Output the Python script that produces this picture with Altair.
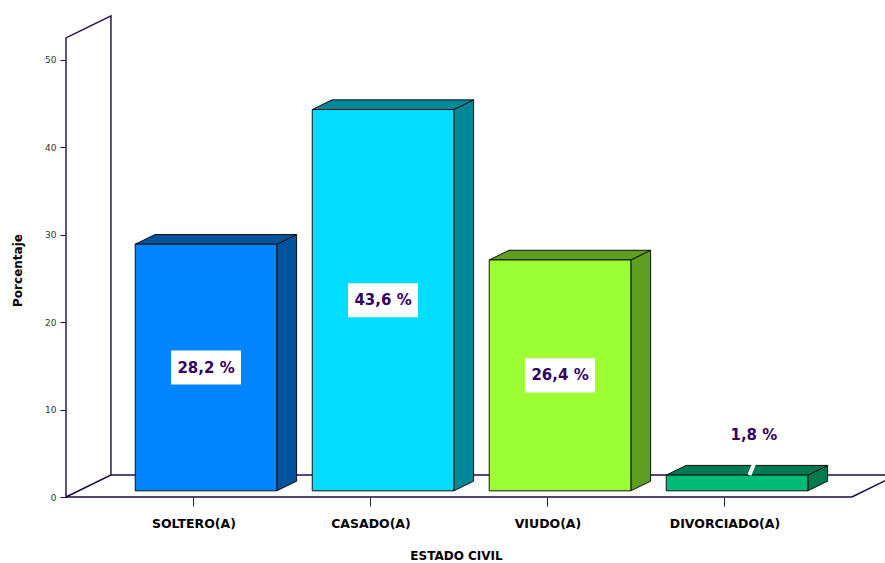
import json
import altair as alt
import pandas as pd

# ---------------- data ----------------
categories = ["SOLTERO(A)", "CASADO(A)", "VIUDO(A)", "DIVORCIADO(A)"]
values = [28.2, 43.6, 26.4, 1.8]
front_colors = ["#0084FF", "#00DDFF", "#9CFF33", "#00BB78"]
side_colors = ["#00529C", "#00889A", "#5E9E20", "#007850"]
y_ticks = [0, 10, 20, 30, 40, 50]

# ---------------- geometry (style) ----------------
W, H = 819, 481
X_MAX = 4.627          # x domain (one unit = category spacing)
Y_MAX = 55.0           # y domain
FIRST = 0.72           # first category centre (x units)
DX, DY = 0.254, 2.516  # depth vector of the floor (x units, value units)
F0, F1 = 0.28, 0.72    # bar front / back depth fraction
BW = 0.80              # bar width (x units)
WALL_TOP = 52.5
FLOOR_END = 4.44
BOX_W, BOX_H = 0.395, 3.9
INK = "#1E0845"
LABEL_COLOR = "#330066"

centers = [FIRST + i for i in range(len(categories))]
labels = [f"{v:.1f}".replace(".", ",") + " %" for v in values]

rows_front, rows_side, rows_top, rows_box, rows_text = [], [], [], [], []
for c, v, fc, sc, cx, lab in zip(categories, values, front_colors, side_colors, centers, labels):
    x0 = cx + F0 * DX - BW / 2
    x1 = cx + F0 * DX + BW / 2
    b0 = F0 * DY
    b1 = F1 * DY
    ddx = (F1 - F0) * DX
    rows_front.append(dict(cat=c, x=x0, x2=x1, y=b0, y2=v + b0, col=fc))
    rows_side.append(dict(cat=c, x=x1, y=b0, y2=v + b0, col=sc))
    rows_side.append(dict(cat=c, x=x1 + ddx, y=b1, y2=v + b1, col=sc))
    rows_top.append(dict(cat=c, y=v + b0, x=x0, x2=x1, col=sc))
    rows_top.append(dict(cat=c, y=v + b1, x=x0 + ddx, x2=x1 + ddx, col=sc))
    mx = cx + F0 * DX
    if v > 5:
        my = v / 2 + b0
        rows_box.append(dict(x=mx - BOX_W / 2, x2=mx + BOX_W / 2, y=my - BOX_H / 2, y2=my + BOX_H / 2))
        rows_text.append(dict(x=mx, y=my, label=lab))
    else:
        rows_text.append(dict(x=mx + 0.095, y=v + b1 + 3.5, label=lab))

small = [i for i, v in enumerate(values) if v <= 5]
rows_lead = []
for i in small:
    mx = centers[i] + F0 * DX + 0.07
    rows_lead.append(dict(x=mx, y=values[i] + F0 * DY, x2=mx + 0.03, y2=values[i] + F1 * DY + 0.4))

xs = alt.Scale(domain=[0, X_MAX], nice=False, zero=False)
ys = alt.Scale(domain=[0, Y_MAX], nice=False, zero=False)

label_expr = f"{json.dumps(categories)}[round(datum.value - {FIRST})]"

# floor (horizontal parallelogram)
floor_df = pd.DataFrame([
    dict(y=0, x=0, x2=FLOOR_END),
    dict(y=DY, x=DX, x2=FLOOR_END + DX),
])
floor = alt.Chart(floor_df).mark_area(
    orient="horizontal", fill="white", stroke=INK, strokeWidth=1.4
).encode(
    y=alt.Y("y:Q", scale=ys, axis=alt.Axis(
        values=y_ticks, title="Porcentaje", domain=False, grid=False,
        tickColor=INK, tickSize=6, labelFontSize=9, labelColor="#333333",
        labelFont="DejaVu Sans", labelPadding=4,
        titleFont="DejaVu Sans", titleFontSize=12, titleFontWeight="bold",
        titleColor="black", titleX=-49, titleY=254, titleAngle=-90,
        titleAlign="center", titleBaseline="middle")),
    x=alt.X("x:Q", scale=xs, axis=alt.Axis(
        values=centers, labelExpr=label_expr, title="ESTADO CIVIL",
        domain=False, grid=False, tickColor="#222222", tickSize=9,
        labelFont="DejaVu Sans", labelFontSize=12.5, labelFontWeight="bold",
        labelColor="black", labelPadding=11,
        titleFont="DejaVu Sans", titleFontSize=12, titleFontWeight="bold",
        titleColor="black", titleX=390, titleY=58, titleAnchor="start",
        titleAlign="center", titleBaseline="middle")),
    x2="x2:Q",
    order=alt.Order("y:Q"),
)

# right edge of the floor
edge_df = pd.DataFrame([dict(x=FLOOR_END, y=0, x2=FLOOR_END + DX, y2=DY)])
edge = alt.Chart(edge_df).mark_rule(color=INK, strokeWidth=1.4).encode(
    x=alt.X("x:Q", scale=xs), x2="x2:Q",
    y=alt.Y("y:Q", scale=ys), y2="y2:Q",
)

wall_df = pd.DataFrame([
    dict(x=0, y=0, y2=WALL_TOP),
    dict(x=DX, y=DY, y2=WALL_TOP + DY),
])
wall = alt.Chart(wall_df).mark_area(
    fill="white", stroke=INK, strokeWidth=1.4
).encode(
    x=alt.X("x:Q", scale=xs),
    y=alt.Y("y:Q", scale=ys),
    y2="y2:Q",
)

side = alt.Chart(pd.DataFrame(rows_side)).mark_area(
    stroke="#111111", strokeWidth=1
).encode(
    x=alt.X("x:Q", scale=xs),
    y=alt.Y("y:Q", scale=ys),
    y2="y2:Q",
    detail="cat:N",
    fill=alt.Fill("col:N", scale=None),
)

top = alt.Chart(pd.DataFrame(rows_top)).mark_area(
    orient="horizontal", stroke="#111111", strokeWidth=1
).encode(
    y=alt.Y("y:Q", scale=ys),
    x=alt.X("x:Q", scale=xs),
    x2="x2:Q",
    detail="cat:N",
    fill=alt.Fill("col:N", scale=None),
)

front = alt.Chart(pd.DataFrame(rows_front)).mark_rect(
    stroke="#111111", strokeWidth=1
).encode(
    x=alt.X("x:Q", scale=xs),
    x2="x2:Q",
    y=alt.Y("y:Q", scale=ys),
    y2="y2:Q",
    fill=alt.Fill("col:N", scale=None),
)

lead = alt.Chart(pd.DataFrame(rows_lead)).mark_rule(
    color="white", strokeWidth=4
).encode(
    x=alt.X("x:Q", scale=xs), x2="x2:Q",
    y=alt.Y("y:Q", scale=ys), y2="y2:Q",
)

box = alt.Chart(pd.DataFrame(rows_box)).mark_rect(fill="white").encode(
    x=alt.X("x:Q", scale=xs), x2="x2:Q",
    y=alt.Y("y:Q", scale=ys), y2="y2:Q",
)

text = alt.Chart(pd.DataFrame(rows_text)).mark_text(
    font="DejaVu Sans", fontSize=15, fontWeight="bold", color=LABEL_COLOR,
    align="center", baseline="middle"
).encode(
    x=alt.X("x:Q", scale=xs),
    y=alt.Y("y:Q", scale=ys),
    text="label:N",
)

chart = alt.layer(floor, edge, wall, side, top, front, lead, box, text).properties(
    width=W, height=H,
    autosize=alt.AutoSizeParams(type="none"),
    padding={"left": 66, "top": 16, "right": 0, "bottom": 66},
    background="white",
).configure_view(stroke=None)

chart.save("out.html", embed_options={"renderer": "svg", "actions": False})
